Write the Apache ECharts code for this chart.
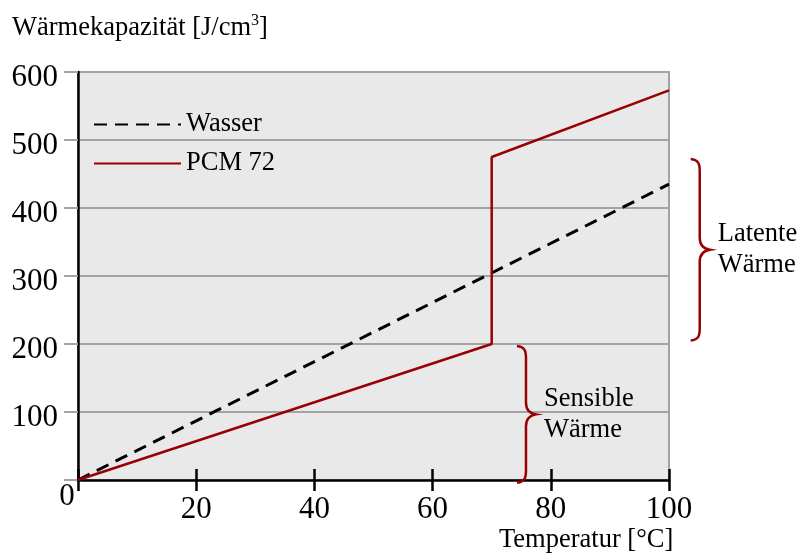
<!DOCTYPE html>
<html>
<head>
<meta charset="utf-8">
<script src="https://cdn.jsdelivr.net/npm/echarts@6/dist/echarts.min.js"></script>
<style>
  html, body { margin: 0; padding: 0; background: #fff; }
  #chart { width: 801px; height: 558px; }
</style>
</head>
<body>
<div id="chart"></div>
<script>
// Daten
const wasserTemp = [0, 100];
const wasserCap = [0, 435];
const pcmTemp = [0, 70, 70, 100];
const pcmCap = [0, 200, 475, 573];

// geschweifte Klammern: x-Position (Temperatur), von/bis (Kapazität), Text
const braceTemp = [105.2, 75.8];
const braceFrom = [205, -4];
const braceTo = [472, 197];
const braceText = ['Latente\nWärme', 'Sensible\nWärme'];

const xTicks = { min: 0, max: 100, interval: 20 };
const yTicks = { min: 0, max: 600, interval: 100 };

const FONT = "'Liberation Serif', 'Times New Roman', serif";
const RED = '#990000';
const GRID_GRAY = '#a3a3a3';

const chart = echarts.init(document.getElementById('chart'));

function hideZero(v) {
    return v === 0 ? '' : String(v);
}

// Klammer "}" zeichnen, Spitze zeigt nach rechts
function renderBrace(params, api) {
    const i = params.dataIndex;
    const top = api.coord([braceTemp[i], braceTo[i]]);
    const bot = api.coord([braceTemp[i], braceFrom[i]]);
    const x = top[0];
    const yt = top[1];
    const yb = bot[1];
    const ym = (yt + yb) / 2;
    const path =
        'M' + (x - 9) + ' ' + yt +
        ' C' + (x - 1) + ' ' + (yt + 1) + ' ' + x + ' ' + (yt + 5) + ' ' + x + ' ' + (yt + 12) +
        ' L' + x + ' ' + (ym - 12) +
        ' C' + x + ' ' + (ym - 4) + ' ' + (x + 4) + ' ' + (ym - 1) + ' ' + (x + 10) + ' ' + ym +
        ' C' + (x + 4) + ' ' + (ym + 1) + ' ' + x + ' ' + (ym + 4) + ' ' + x + ' ' + (ym + 12) +
        ' L' + x + ' ' + (yb - 12) +
        ' C' + x + ' ' + (yb - 5) + ' ' + (x - 1) + ' ' + (yb - 1) + ' ' + (x - 9) + ' ' + yb;
    return {
        type: 'group',
        children: [
            {
                type: 'path',
                shape: { pathData: path },
                style: { fill: null, stroke: RED, lineWidth: 2.5 }
            },
            {
                type: 'text',
                x: x + 18,
                y: ym,
                style: {
                    text: braceText[i],
                    font: '26.5px ' + FONT,
                    fill: '#000',
                    verticalAlign: 'middle',
                    align: 'left',
                    lineHeight: 31
                }
            }
        ]
    };
}

const option = {
    animation: false,
    backgroundColor: '#fff',
    textStyle: { fontFamily: FONT, color: '#000' },
    title: [
        {
            text: 'Wärmekapazität [J/cm{sup|3}]',
            left: 12,
            top: 13,
            padding: 0,
            textStyle: {
                fontFamily: FONT,
                fontSize: 26.5,
                fontWeight: 'normal',
                color: '#000',
                lineHeight: 31,
                rich: {
                    sup: { fontSize: 16, fontFamily: FONT, verticalAlign: 'top', lineHeight: 31, padding: [0, 0, 12, 0] }
                }
            }
        },
        {
            text: 'Temperatur [°C]',
            left: 499,
            top: 527,
            padding: 0,
            textStyle: { fontFamily: FONT, fontSize: 26.5, fontWeight: 'normal', color: '#000' }
        }
    ],
    legend: {
        orient: 'vertical',
        left: 93,
        top: 111,
        padding: 0,
        itemWidth: 87,
        itemHeight: 22,
        itemGap: 12,
        data: ['Wasser', 'PCM 72'],
        itemStyle: { opacity: 0 },
        textStyle: { fontFamily: FONT, fontSize: 26.5, color: '#000' }
    },
    grid: {
        left: 78,
        right: 132,
        top: 72,
        bottom: 78,
        show: true,
        backgroundColor: '#e9e9e9',
        borderColor: GRID_GRAY,
        borderWidth: 2
    },
    xAxis: [
        {
            type: 'value',
            min: xTicks.min,
            max: xTicks.max,
            interval: xTicks.interval,
            axisLine: { show: true, onZero: false, lineStyle: { color: '#000', width: 2.5 } },
            axisTick: { show: true, length: 11, lineStyle: { color: '#000', width: 2.5 } },
            axisLabel: { fontFamily: FONT, fontSize: 31, color: '#000', margin: 14, formatter: hideZero },
            splitLine: { show: false }
        },
        {
            type: 'value',
            position: 'bottom',
            min: xTicks.min,
            max: xTicks.max,
            interval: xTicks.interval,
            axisLine: { show: false },
            axisTick: { show: true, inside: true, length: 11, lineStyle: { color: '#000', width: 2.5 } },
            axisLabel: { show: false },
            splitLine: { show: false }
        }
    ],
    yAxis: {
        type: 'value',
        min: yTicks.min,
        max: yTicks.max,
        interval: yTicks.interval,
        axisLine: { show: true, onZero: false, lineStyle: { color: '#000', width: 2.5 } },
        axisTick: { show: true, length: 14, lineStyle: { color: GRID_GRAY, width: 2 } },
        axisLabel: {
            fontFamily: FONT, fontSize: 31, color: '#000', margin: 20,
            verticalAlign: 'top', lineHeight: 11, formatter: hideZero
        },
        splitLine: { show: true, lineStyle: { color: GRID_GRAY, width: 2 } }
    },
    graphic: [
        {
            type: 'text',
            x: 67,
            y: 481,
            style: { text: '0', font: '31px ' + FONT, fill: '#000', align: 'center', verticalAlign: 'top' }
        }
    ],
    series: [
        {
            name: 'Wasser',
            type: 'line',
            symbol: 'none',
            data: wasserTemp.map((t, i) => [t, wasserCap[i]]),
            lineStyle: { color: '#000', width: 3, type: [13, 8] },
            itemStyle: { color: '#000' },
            z: 3
        },
        {
            name: 'PCM 72',
            type: 'line',
            symbol: 'none',
            data: pcmTemp.map((t, i) => [t, pcmCap[i]]),
            lineStyle: { color: RED, width: 2.5 },
            itemStyle: { color: RED },
            z: 4
        },
        {
            name: 'Klammern',
            type: 'custom',
            clip: false,
            silent: true,
            renderItem: renderBrace,
            data: braceTemp.map((t, i) => [t, braceFrom[i], braceTo[i]]),
            z: 5
        }
    ]
};

chart.setOption(option);
</script>
</body>
</html>
